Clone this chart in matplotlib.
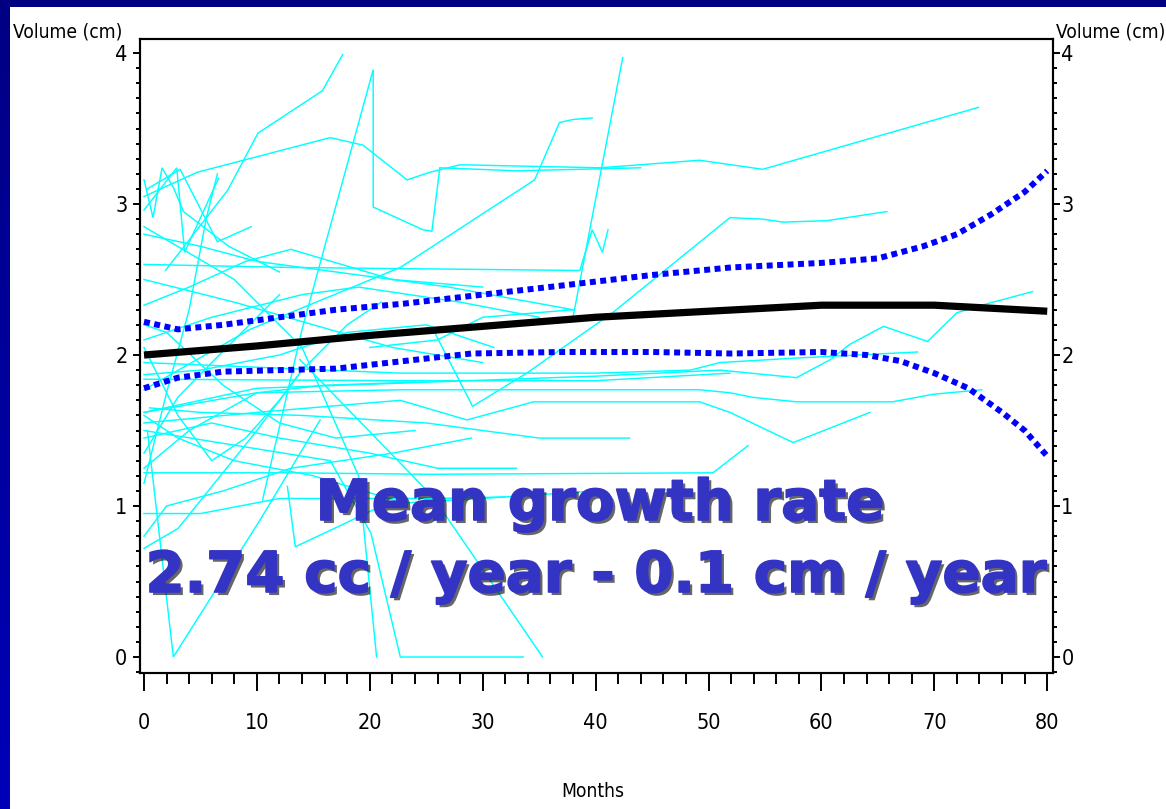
import matplotlib
matplotlib.use('Agg')
import matplotlib.pyplot as plt
import matplotlib.patheffects as pe
from matplotlib.patches import Rectangle
from matplotlib.ticker import MultipleLocator
from matplotlib import font_manager as fm
from matplotlib.colors import LinearSegmentedColormap
import numpy as np

# ---------------- data ----------------
# individual tumour volume trajectories (months, volume)
subject_months = [
    [0, 4.7, 16.5, 19.4, 23.3, 25.3, 28, 40.4, 49.2, 54.8, 73.9],
    [1.9, 7.4, 10.1, 15.8, 17.6],
    [10.5, 14.0, 20.3, 20.3, 24.7, 25.5, 26.2, 33, 44],
    [34.2, 38.0, 42.4],
    [0, 12.9, 38.6, 39.7, 40.6, 41.1],
    [0, 9.4, 22.7, 34.6, 36.8, 38.0, 39.7],
    [25.6, 29.1, 33.9, 41.5, 51.9, 54.8, 56.6, 60.5, 65.8],
    [0, 10, 25, 40, 51, 57.8, 60.8, 62.5, 65.5, 69.4, 72.0, 74.2, 78.7],
    [0, 22.7, 40, 48.4, 51, 57.8, 60.5, 68.5],
    [0, 10, 22.7, 49.2, 51.9, 53.9, 57.8, 66.3, 69.9, 74.2],
    [0, 10, 22.7, 28.6, 34.5, 49.2, 51.9, 57.5, 64.3],
    [0, 12.7, 25.3, 50.4, 53.5],
    [0, 16.5, 20.1, 22.7, 33.6],
    [13.8, 25.6, 35.3],
    [0.3, 2.6, 10.3, 15.6],
    [0, 8, 14, 19, 20.6],
    [0, 0.8, 1.6, 2.6, 3.5, 7.5, 12],
    [0, 2.9, 3.6, 6.6],
    [0.3, 3.2, 6.5, 9.5],
    [0, 5, 10, 17, 27, 38],
    [0, 8, 15, 22, 30],
    [0, 4, 9, 13, 22, 30],
    [0, 6, 14, 19, 28, 35],
    [0, 5, 12, 18, 25, 31],
    [0, 3, 8, 15, 23, 30, 40],
    [0, 2, 7, 13, 22, 29],
    [0, 5, 12, 19, 26, 32],
    [0, 3, 10, 14, 18, 21],
    [0, 3, 6, 10, 12],
    [0, 4, 10, 16, 24],
    [0, 2, 4, 5.5, 6.5],
    [0, 2, 7, 12, 17, 24],
    [0, 6, 12, 20, 26, 33],
    [0, 3, 6, 9, 12, 14],
    [0.5, 5, 14, 25, 35, 43],
    [20, 26, 30, 38],
    [0, 22.7, 40, 51.9],
    [12.7, 13.4, 17.1, 21],
]
subject_volumes = [
    [3.05, 3.21, 3.44, 3.39, 3.16, 3.21, 3.26, 3.24, 3.29, 3.23, 3.64],
    [2.56, 3.09, 3.47, 3.75, 3.99],
    [1.04, 2.17, 3.89, 2.98, 2.83, 2.82, 3.24, 3.22, 3.24],
    [2.22, 2.25, 3.97],
    [2.60, 2.58, 2.56, 2.83, 2.68, 2.83],
    [1.77, 2.17, 2.58, 3.16, 3.54, 3.56, 3.57],
    [2.17, 1.66, 1.88, 2.28, 2.91, 2.90, 2.88, 2.89, 2.95],
    [1.62, 1.78, 1.82, 1.86, 1.90, 1.85, 1.97, 2.07, 2.19, 2.09, 2.28, 2.33, 2.42],
    [1.95, 1.88, 1.88, 1.90, 1.95, 1.98, 1.99, 2.02],
    [1.62, 1.75, 1.77, 1.77, 1.75, 1.72, 1.69, 1.69, 1.74, 1.77],
    [1.55, 1.62, 1.70, 1.57, 1.69, 1.69, 1.62, 1.42, 1.62],
    [1.22, 1.22, 1.21, 1.22, 1.40],
    [1.50, 1.30, 0.82, 0.0, 0.0],
    [1.97, 1.06, 0.0],
    [1.50, 0.0, 0.91, 1.57],
    [2.85, 2.50, 2.05, 1.20, 0.0],
    [3.16, 2.91, 3.24, 3.11, 2.95, 2.72, 2.55],
    [2.96, 3.24, 2.68, 3.17],
    [3.10, 3.23, 2.75, 2.85],
    [2.80, 2.72, 2.62, 2.55, 2.45, 2.30],
    [2.50, 2.35, 2.20, 2.05, 1.95],
    [2.33, 2.45, 2.62, 2.70, 2.50, 2.45],
    [2.10, 2.25, 2.40, 2.45, 2.35, 2.25],
    [1.87, 1.90, 2.00, 2.15, 2.20, 2.05],
    [1.60, 1.45, 1.30, 1.20, 1.02, 1.05, 1.10],
    [0.80, 1.00, 1.10, 1.25, 1.35, 1.45],
    [0.95, 0.95, 1.05, 1.05, 1.05, 1.06],
    [0.72, 0.85, 1.50, 1.90, 2.20, 2.35],
    [1.35, 1.72, 1.95, 2.25, 2.40],
    [1.25, 1.50, 1.75, 1.80, 1.82],
    [1.15, 1.75, 2.30, 2.90, 3.20],
    [2.20, 2.15, 1.80, 1.55, 1.45, 1.50],
    [1.45, 1.55, 1.45, 1.35, 1.25, 1.25],
    [2.05, 1.60, 1.30, 1.45, 1.70, 1.90],
    [1.65, 1.62, 1.60, 1.55, 1.45, 1.45],
    [2.05, 2.10, 2.25, 2.30],
    [1.84, 1.83, 1.83, 1.88],
    [1.13, 0.73, 0.86, 1.00],
]

# mean curve and confidence limits
mean_months = [0, 10, 20, 30, 40, 50, 60, 70, 80]
mean_volume = [2.00, 2.06, 2.13, 2.19, 2.25, 2.29, 2.33, 2.33, 2.29]
upper_months = [0, 3, 7, 12, 17, 23, 30, 37, 45, 52, 60, 65, 69, 72, 75, 78, 80]
upper_volume = [2.22, 2.17, 2.20, 2.25, 2.30, 2.34, 2.40, 2.46, 2.53, 2.58, 2.61, 2.64, 2.72, 2.80, 2.93, 3.08, 3.22]
lower_months = [0, 3, 7, 12, 17, 23, 29, 37, 45, 52, 60, 64, 67, 70, 73, 76, 78, 80]
lower_volume = [1.78, 1.85, 1.89, 1.90, 1.91, 1.96, 2.01, 2.02, 2.02, 2.01, 2.02, 2.00, 1.96, 1.88, 1.78, 1.62, 1.50, 1.33]

x_ticks = [0, 10, 20, 30, 40, 50, 60, 70, 80]
y_ticks = [0, 1, 2, 3, 4]
y_label = "Volume (cm)"
x_label = "Months"
line1 = "Mean growth rate"
line2 = "2.74 cc / year - 0.1 cm / year"


# ---------------- fonts ----------------
def pick_narrow_font():
    bad = ('bold', 'italic', 'oblique', 'light', 'thin', 'black', 'medium',
           'semicondensed', 'extracondensed', 'ultracondensed', 'heavy')
    found = []
    for f in fm.fontManager.ttflist:
        fn = f.fname.lower().replace('-', '').replace('_', '').replace(' ', '')
        base = fn.rsplit('/', 1)[-1]
        if not ('narrow' in base or 'condensed' in base or str(f.stretch) == 'condensed'):
            continue
        if any(b in base for b in bad):
            continue
        if 'mono' in base or 'serif' in base:
            rank = 2
        elif 'liberationsansnarrow' in base:
            rank = 0
        else:
            rank = 1
        found.append((rank, f.fname))
    found.sort()
    return found[0][1] if found else None


narrow = pick_narrow_font()
if narrow:
    def lab_font(size):
        return fm.FontProperties(fname=narrow, size=size)
    lab_size = 13.8
    tick_size = 15.5
else:
    def lab_font(size):
        return fm.FontProperties(family='DejaVu Sans Mono', size=size)
    lab_size = 11.3
    tick_size = 14

# ---------------- figure ----------------
W, H = 1166, 809
fig = plt.figure(figsize=(W / 100, H / 100), dpi=100)
fig.patch.set_facecolor('white')

# navy slide frame
fig.add_artist(Rectangle((0, 1 - 7 / H), 1, 7 / H, transform=fig.transFigure,
                         facecolor='#000080', edgecolor='none', zorder=0))
axb = fig.add_axes([0, 0, 10 / W, 1 - 7 / H])
grad = np.linspace(0, 1, 256).reshape(-1, 1)
cm = LinearSegmentedColormap.from_list('fr', ['#000084', '#0000B8'])
axb.imshow(grad, aspect='auto', cmap=cm, extent=[0, 1, 1, 0])
axb.axis('off')

ax = fig.add_axes([140 / W, 136 / H, 913 / W, 634 / H])
ax.set_xlim(-0.354, 80.51)
ax.set_ylim(-0.106, 4.093)

for xs, ys in zip(subject_months, subject_volumes):
    ax.plot(xs, ys, color='#00FFFF', lw=1.05, solid_joinstyle='miter', zorder=2)

ax.plot(mean_months, mean_volume, color='black', lw=5.2, zorder=4, solid_capstyle='butt')
for xs, ys in ((upper_months, upper_volume), (lower_months, lower_volume)):
    ax.plot(xs, ys, color='#0000FF', lw=4.3, linestyle=(0, (1.0, 0.75)),
            dash_capstyle='butt', zorder=5)

for s in ax.spines.values():
    s.set_linewidth(1.5)
    s.set_color('black')

ax.xaxis.set_major_locator(plt.FixedLocator(x_ticks))
ax.xaxis.set_minor_locator(MultipleLocator(2))
ax.yaxis.set_major_locator(plt.FixedLocator(y_ticks))
ax.yaxis.set_minor_locator(MultipleLocator(0.1))
ax.tick_params(axis='x', which='major', direction='out', length=13, width=1.4, pad=16)
ax.tick_params(axis='x', which='minor', direction='out', length=8, width=1.4)
ax.tick_params(axis='y', which='major', direction='out', length=5, width=1.4, pad=4)
ax.tick_params(axis='y', which='minor', direction='out', length=3, width=1.4)
ax.set_xticklabels([str(v) for v in x_ticks], fontproperties=lab_font(tick_size))
ax.set_yticklabels([str(v) for v in y_ticks], fontproperties=lab_font(tick_size))

ax2 = ax.twinx()
ax2.set_ylim(ax.get_ylim())
ax2.yaxis.set_major_locator(plt.FixedLocator(y_ticks))
ax2.yaxis.set_minor_locator(MultipleLocator(0.1))
ax2.tick_params(axis='y', which='major', direction='out', length=5, width=1.4, pad=1)
ax2.tick_params(axis='y', which='minor', direction='out', length=3, width=1.4)
ax2.set_yticklabels([str(v) for v in y_ticks], fontproperties=lab_font(tick_size))
for s in ax2.spines.values():
    s.set_linewidth(1.5)

fig.text(13 / W, 1 - 37 / H, y_label, fontproperties=lab_font(lab_size), va='baseline', ha='left')
tr = fig.text(1061 / W, 1 - 37 / H, y_label, fontproperties=lab_font(lab_size), va='baseline', ha='left')
fig.text(593 / W, 1 - 797 / H, x_label, fontproperties=lab_font(lab_size), va='baseline', ha='center')

# overlay annotation
big_color = '#3434C4'
t1 = fig.text(600 / W, 1 - 520 / H, line1, family='DejaVu Sans', weight='bold',
              color=big_color, fontsize=40, ha='center', va='baseline', zorder=10)
t2 = fig.text(596 / W, 1 - 592 / H, line2, family='DejaVu Sans', weight='bold',
              color=big_color, fontsize=40, ha='center', va='baseline', zorder=10)
fig.canvas.draw()
r = fig.canvas.get_renderer()
w2 = t2.get_window_extent(r).width
fs = 40 * 900 / w2
t1.set_fontsize(fs)
t2.set_fontsize(fs)
# keep right axis label inside the canvas
bb = tr.get_window_extent(r)
if bb.x1 > W - 1:
    tr.set_x((W - 1 - bb.width) / W)
for t in (t1, t2):
    t.set_path_effects([pe.SimplePatchShadow(offset=(2.2, -2.2), shadow_rgbFace='black', alpha=0.6),
                        pe.withStroke(linewidth=1.2, foreground=big_color)])

fig.savefig('out.png', dpi=100, facecolor='white')
